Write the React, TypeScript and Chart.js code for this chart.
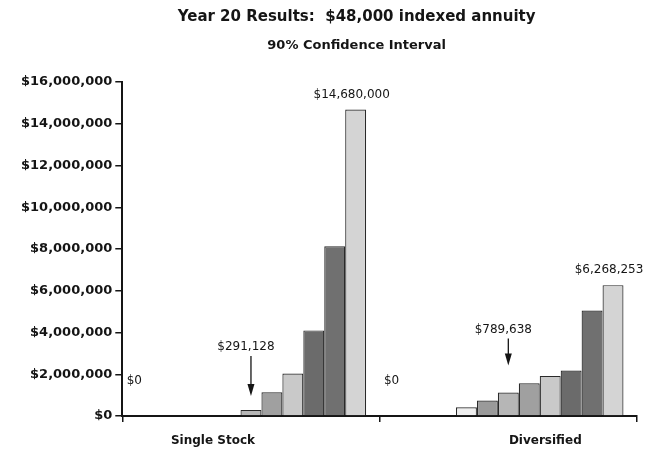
import { useEffect, useRef } from 'react';
import { Chart, registerables } from 'chart.js';

Chart.register(...registerables);

// ---- data ----
const categories = ['Single Stock', 'Diversified'];
const singleStock = [0, 0, 0, 0, 0, 291128, 1140000, 2030000, 4100000, 8130000, 14680000];
const diversified = [0, 0, 0, 420000, 740000, 1120000, 1570000, 1920000, 2180000, 5050000, 6268253];
const yMax = 16000000;
const yStep = 2000000;
const minLabels = ['$0', '$0'];
const medianLabels = ['$291,128', '$789,638'];
const maxLabels = ['$14,680,000', '$6,268,253'];
const titleText = 'Year 20 Results:  $48,000 indexed annuity';
const subtitleText = '90% Confidence Interval';

// ---- styles ----
const barColors = ['#ffffff', '#ffffff', '#ffffff', '#eeeeee', '#9a9a9a', '#b6b6b6', '#a0a0a0', '#c9c9c9', '#6b6b6b', '#707070', '#d4d4d4'];
const FONT = '"DejaVu Sans", "Liberation Sans", sans-serif';
const INK = '#151515';
const arrowLen = [40, 27];
const xLabelOffset = [-38, 37];

const textPlugin = {
  id: 'customText',
  afterDraw(chart: any) {
    const ctx = chart.ctx;
    const ca = chart.chartArea;
    ctx.save();
    ctx.fillStyle = INK;
    ctx.strokeStyle = INK;
    ctx.textAlign = 'center';
    ctx.textBaseline = 'middle';
    // titles
    const cx = (ca.left + ca.right) / 2 - 23;
    ctx.font = `bold 15px ${FONT}`;
    ctx.fillText(titleText, cx, 17);
    ctx.font = `bold 13px ${FONT}`;
    ctx.fillText(subtitleText, cx, 46);
    // x labels
    const xs = chart.scales.x;
    ctx.font = `bold 12px ${FONT}`;
    categories.forEach((c, i) => {
      ctx.fillText(c, xs.getPixelForValue(i) + xLabelOffset[i], ca.bottom + 25);
    });
    // annotations
    const n = chart.data.datasets.length;
    const mid = Math.floor(n / 2);
    const base = chart.scales.y.getPixelForValue(0);
    ctx.font = `12px ${FONT}`;
    ctx.lineWidth = 1.3;
    categories.forEach((_, c) => {
      const b0 = chart.getDatasetMeta(0).data[c];
      const bm = chart.getDatasetMeta(mid).data[c];
      const bl = chart.getDatasetMeta(n - 1).data[c];
      ctx.fillText(minLabels[c], b0.x - 12, base - 35);
      const ly = bm.y - 63;
      ctx.fillText(medianLabels[c], bm.x - 5, ly);
      const a0 = ly + 9;
      const a1 = a0 + arrowLen[c];
      ctx.beginPath();
      ctx.moveTo(bm.x, a0);
      ctx.lineTo(bm.x, a1 - 8);
      ctx.stroke();
      ctx.beginPath();
      ctx.moveTo(bm.x - 3.5, a1 - 12);
      ctx.lineTo(bm.x + 3.5, a1 - 12);
      ctx.lineTo(bm.x, a1);
      ctx.closePath();
      ctx.fill();
      ctx.fillText(maxLabels[c], bl.x - 4, bl.y - 15);
    });
    ctx.restore();
  },
};

export default function App() {
  const ref = useRef<HTMLCanvasElement>(null);
  useEffect(() => {
    if (!ref.current) return;
    const datasets = singleStock.map((v, i) => ({
      label: `P${i}`,
      data: [v, diversified[i]],
      backgroundColor: barColors[i],
      borderColor: '#2a2a2a',
      borderWidth: 1.2,
      categoryPercentage: 0.895,
      barPercentage: 1.0,
    }));
    const chart = new Chart(ref.current, {
      type: 'bar',
      data: { labels: categories, datasets },
      plugins: [textPlugin],
      options: {
        responsive: false,
        animation: false,
        layout: { padding: { left: 18, right: 19, top: 82, bottom: 27 } },
        plugins: { legend: { display: false }, title: { display: false }, tooltip: { enabled: false } },
        scales: {
          x: {
            ticks: { display: false },
            grid: { display: true, drawOnChartArea: false, drawTicks: true, tickLength: 6, color: INK, lineWidth: 1.5, offset: true },
            border: { display: true, color: INK, width: 2 },
          },
          y: {
            min: 0,
            max: yMax,
            ticks: {
              stepSize: yStep,
              padding: 3,
              color: INK,
              font: { family: FONT, size: 13, weight: 'bold' },
              callback: (v: any) => '$' + Number(v).toLocaleString('en-US'),
            },
            grid: { display: true, drawOnChartArea: false, drawTicks: true, tickLength: 7, color: INK, lineWidth: 1.5 },
            border: { display: true, color: INK, width: 2 },
          },
        },
      },
    });
    return () => chart.destroy();
  }, []);
  return (
    <div style={{ position: 'absolute', left: 0, top: 0, width: 656, height: 449, background: '#fff' }}>
      <canvas ref={ref} width={656} height={449} />
    </div>
  );
}
